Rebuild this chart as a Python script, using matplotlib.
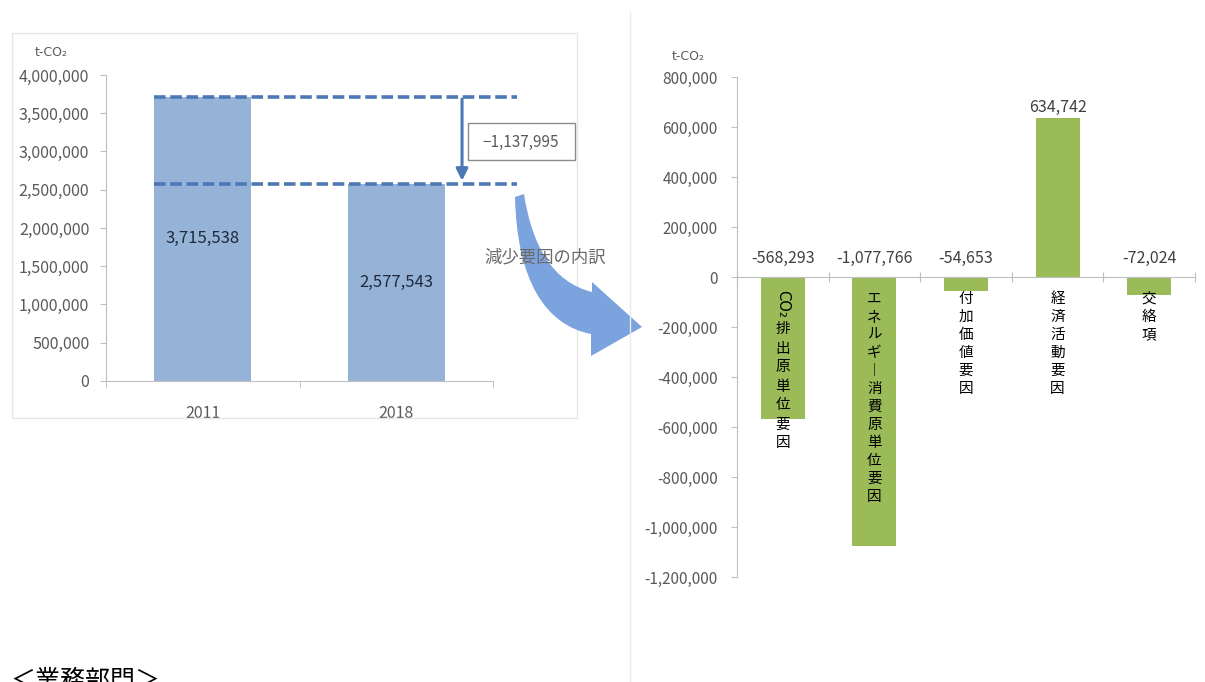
import matplotlib
matplotlib.use("Agg")
import matplotlib.pyplot as plt
import numpy as np
from matplotlib.path import Path
from matplotlib.patches import PathPatch, Rectangle
from matplotlib.lines import Line2D
from matplotlib.ticker import FuncFormatter, FixedLocator

plt.rcParams['font.family'] = ['Noto Sans CJK JP', 'DejaVu Sans']

# ---------------- data ----------------
years = ["2011", "2018"]
emissions = [3715538, 2577543]
change_label = "−1,137,995"

factors = ["CO₂排出原単位要因", "エネルギー消費原単位要因", "付加価値要因", "経済活動要因", "交絡項"]
factor_values = [-568293, -1077766, -54653, 634742, -72024]

left_yticks = [0, 500000, 1000000, 1500000, 2000000, 2500000, 3000000, 3500000, 4000000]
right_yticks = [-1200000, -1000000, -800000, -600000, -400000, -200000, 0, 200000, 400000, 600000, 800000]

unit_label = "t-CO₂"
arrow_text = "減少要因の内訳"
section_title = "＜業務部門＞"

# ---------------- layout helpers ----------------
W, H = 1205, 682
fig = plt.figure(figsize=(W / 100, H / 100), dpi=100)


def P(x, y):
    return (x / W, 1 - y / H)


def axes_px(l, t, r, b):
    return [l / W, 1 - b / H, (r - l) / W, (b - t) / H]


fmt = FuncFormatter(lambda v, p: f"{v:,.0f}")
tick_col = "#595959"
axis_col = "#BFBFBF"

# panel borders
fig.add_artist(Rectangle(P(12, 418), 565 / W, 385 / H, transform=fig.transFigure,
                         fill=False, edgecolor="#E6E6E6", linewidth=1))
fig.add_artist(Line2D([630 / W, 630 / W], [1 - 12 / H, 0], transform=fig.transFigure,
                      color="#EBEBEB", linewidth=1))

# ---------------- left chart ----------------
axL = fig.add_axes(axes_px(106, 75, 493, 381))
xL = np.arange(len(years))
axL.bar(xL, emissions, width=0.5, color="#95B3D7", zorder=2)
axL.set_xlim(-0.5, 1.5)
axL.set_ylim(0, 4000000)
axL.yaxis.set_major_locator(FixedLocator(left_yticks))
axL.yaxis.set_major_formatter(fmt)
axL.set_xticks(xL)
axL.set_xticklabels(years)
axL.xaxis.set_minor_locator(FixedLocator([-0.5, 0.5, 1.5]))
axL.tick_params(axis='x', which='major', length=0, pad=17, labelsize=11.5, labelcolor=tick_col)
axL.tick_params(axis='x', which='minor', length=5, color=axis_col, direction='out')
axL.tick_params(axis='y', length=4, color=axis_col, pad=8, labelsize=11.5, labelcolor=tick_col)
for s in ['top', 'right']:
    axL.spines[s].set_visible(False)
for s in ['left', 'bottom']:
    axL.spines[s].set_color(axis_col)

for xi, v in zip(xL, emissions):
    axL.text(xi, v / 2, f"{v:,}", ha='center', va='center', fontsize=12, color="#1F2A3C", zorder=3)

dash_col = "#4C78B5"
for v in emissions:
    axL.plot([-0.25, 1.625], [v, v], linestyle=(0, (3.2, 1.3)), color=dash_col,
             linewidth=2.6, clip_on=False, zorder=4)
axL.annotate("", xy=(1.34, emissions[1] + 40000), xytext=(1.34, emissions[0] - 30000),
             arrowprops=dict(arrowstyle="-|>,head_width=0.35,head_length=0.7",
                             color=dash_col, lw=2.2, shrinkA=0, shrinkB=0),
             annotation_clip=False, zorder=4)

# value box
fig.add_artist(Rectangle(P(468, 160), 107 / W, 37 / H, transform=fig.transFigure,
                         facecolor="white", edgecolor="#8C8C8C", linewidth=1))
fig.text(*P(521, 142), change_label, ha='center', va='center', fontsize=11, color="#595959")

fig.text(*P(51, 53), unit_label, ha='center', va='center', fontsize=9, color=tick_col,
         family=['DejaVu Sans'])

# ---------------- big curved arrow ----------------
verts = [P(515, 197), P(524, 194),
         P(532, 245), P(552, 282), P(592, 292),
         P(592, 282), P(642, 327), P(591, 356), P(591, 334),
         P(545, 325), P(517, 280), P(515, 197),
         P(515, 197)]
codes = [Path.MOVETO, Path.LINETO,
         Path.CURVE4, Path.CURVE4, Path.CURVE4,
         Path.LINETO, Path.LINETO, Path.LINETO, Path.LINETO,
         Path.CURVE4, Path.CURVE4, Path.CURVE4,
         Path.CLOSEPOLY]
fig.add_artist(PathPatch(Path(verts, codes), transform=fig.transFigure,
                         facecolor="#7BA3DE", edgecolor="none"))
fig.text(*P(545, 257), arrow_text, ha='center', va='center', fontsize=12.5, color="#6A6A6A")

# ---------------- right chart ----------------
axR = fig.add_axes(axes_px(737, 77, 1195, 577))
xR = np.arange(len(factors))
axR.bar(xR, factor_values, width=0.48, color="#9BBB59", zorder=2)
axR.set_xlim(-0.5, len(factors) - 0.5)
axR.set_ylim(-1200000, 800000)
axR.yaxis.set_major_locator(FixedLocator(right_yticks))
axR.yaxis.set_major_formatter(fmt)
axR.spines['bottom'].set_position(('data', 0))
for s in ['top', 'right']:
    axR.spines[s].set_visible(False)
for s in ['left', 'bottom']:
    axR.spines[s].set_color(axis_col)
axR.set_xticks(np.arange(-0.5, len(factors), 1.0))
axR.set_xticklabels([])
axR.tick_params(axis='x', length=7, direction='inout', color=axis_col)
axR.tick_params(axis='y', length=4, color=axis_col, pad=10, labelsize=11, labelcolor=tick_col)

px2pt = 0.72
for xi, v in zip(xR, factor_values):
    if v >= 0:
        axR.annotate(f"{v:,}", xy=(xi, v), xytext=(0, 11 * px2pt), textcoords='offset points',
                     ha='center', va='center', fontsize=11.5, color="#404040")
    else:
        axR.annotate(f"{v:,}", xy=(xi, 0), xytext=(0, 19 * px2pt), textcoords='offset points',
                     ha='center', va='center', fontsize=11.5, color="#404040")

# vertical category labels
for xi, name in zip(xR, factors):
    y = 13.0  # px below zero line (top of first glyph)
    if name.startswith("CO₂"):
        axR.annotate("CO₂", xy=(xi, 0), xytext=(0, -(y + 14) * px2pt), textcoords='offset points',
                     ha='center', va='center', rotation=-90, fontsize=10.5, color="black",
                     family=['DejaVu Sans'])
        y += 30
        rest = name[3:]
        pitch = 19.0
    else:
        rest = name
        pitch = 18.0
    for ch in rest:
        c = "︱" if ch == "ー" else ch
        axR.annotate(c, xy=(xi, 0), xytext=(0, -(y + pitch / 2) * px2pt), textcoords='offset points',
                     ha='center', va='center', fontsize=10.5, color="black")
        y += pitch

fig.text(*P(688, 56), unit_label, ha='center', va='center', fontsize=9, color=tick_col,
         family=['DejaVu Sans'])

# ---------------- section title ----------------
fig.text(*P(10, 688), section_title, ha='left', va='baseline', fontsize=18, color="black")

fig.savefig("out.png", dpi=100)
